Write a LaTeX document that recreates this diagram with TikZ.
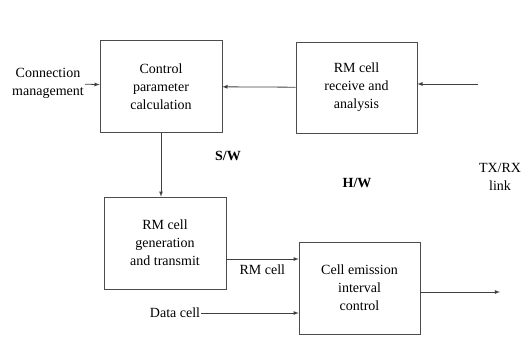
\documentclass[tikz,border=0pt]{standalone}
\usepackage{fontspec}
\setmainfont{Liberation Serif}
\usetikzlibrary{arrows}
\usetikzlibrary{positioning}

\tikzset{
  blk/.style={draw=black!70, line width=0.6pt, align=center, inner sep=0pt,
    minimum width=122pt, minimum height=92pt},
  lbl/.style={align=center, inner sep=1pt},
  flow/.style={->, >=latex, draw=black!75, line width=0.8pt}
}

\begin{document}
\begin{tikzpicture}[x=1pt, y=-1pt, font=\fontsize{14}{18}\selectfont]
            \useasboundingbox (0, 0) rectangle (529, 354);

            % Blocks
            \node[blk] (cpc) at (161, 86.5) {Control\\parameter\\calculation};
            \node[blk, minimum width=121pt, minimum height=91pt] (rra) at (356.5, 87.5) {RM cell\\receive and\\analysis};
            \node[blk] (rmg) at (165, 243) {RM cell\\generation\\and transmit};
            \node[blk, minimum width=121pt] (cei) at (359.5, 288) {Cell emission\\interval\\control};

            % Outside labels
            \node[lbl] (conn) at (48, 83) {Connection\\management};
            \node[lbl] (data) at (175, 313) {Data cell};
            \node[lbl] (sw) at (228, 156) {\textbf{S/W}};
            \node[lbl] (hw) at (357, 183) {\textbf{H/W}};
            \node[lbl] (txrx) at (500, 177) {TX/RX\\link};

            % Free ends
            \coordinate (linkin) at (478, 84);
            \coordinate (rmout) at (226, 259);
            \coordinate (cellout) at (500, 292);

            % Software part
            \draw[flow] (conn) -- (cpc);
            \draw[flow] (linkin) -- (linkin -| rra.east);
            \draw[flow] (rra) -- (cpc);
            \draw[flow] (cpc.south) -- (cpc.south |- rmg.north);

            % Hardware part
            \draw[flow] (rmout) -- (rmout -| cei.west) node[midway, below=2pt] {RM cell};
            \draw[flow] (data) -- (data -| cei.west);
            \draw[flow] (cellout -| cei.east) -- (cellout);
\end{tikzpicture}
\end{document}
